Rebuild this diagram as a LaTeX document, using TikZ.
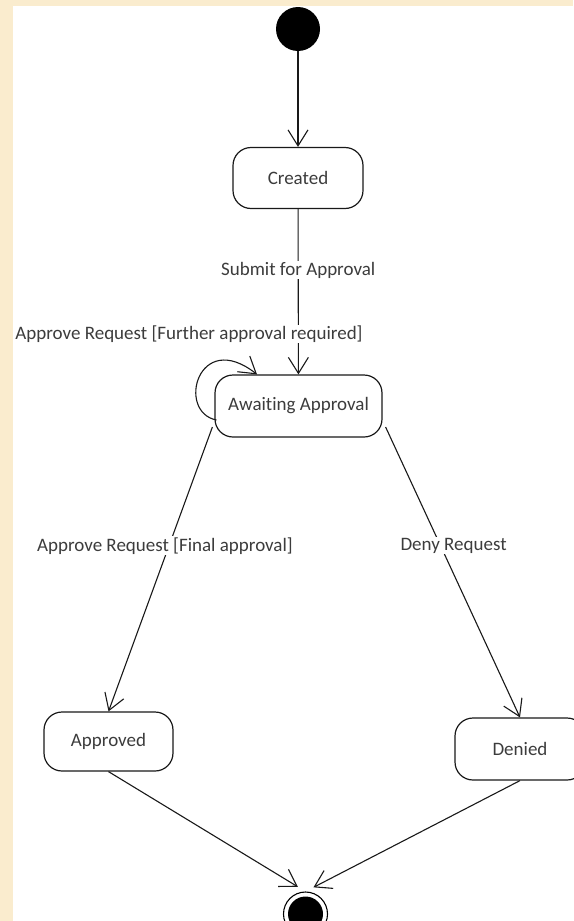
\documentclass[tikz,border=0pt]{standalone}
\usepackage{fontspec}
\setmainfont{Carlito}[Ligatures=NoCommon]
\usetikzlibrary{arrows.meta}
\definecolor{parch}{RGB}{250,236,206}
\definecolor{txt}{RGB}{60,60,60}
\begin{document}
\begin{tikzpicture}[x=1pt,y=-1pt,
  statebox/.style={draw=black!90, line width=1.2pt, rounded corners=18pt, inner sep=0pt,
    font=\fontsize{19}{21}\selectfont, text=txt},
  arr/.style={draw=black!90, line width=1.1pt, -{Straight Barb[length=16pt,width=20pt,line width=1.1pt]}},
  lbl/.style={fill=white, inner sep=1pt, font=\fontsize{19}{21}\selectfont, text=txt}]
\fill[parch] (0,0) rectangle (573,921);
\fill[white] (13,6) rectangle (573,921);
\useasboundingbox (0,0) rectangle (573,921);

\node[circle, fill=black, minimum size=44pt, inner sep=0pt] (start) at (298,29) {};
\node[statebox, minimum width=130pt, minimum height=61pt] (created) at (298,178) {Created};
\node[statebox, minimum width=167pt, minimum height=62pt] (awaiting) at (298.5,406) {Awaiting Approval};
\node[statebox, minimum width=129pt, minimum height=59pt] (approved) at (108.5,741.5) {Approved};
\node[statebox, minimum width=130pt, minimum height=62pt] (denied) at (520,749) {Denied};
\node[circle, draw=black, line width=1.1pt, minimum size=44pt, inner sep=0pt] (fin) at (305.5,914) {};
\node[circle, fill=black, minimum size=35pt, inner sep=0pt] (finin) at (fin.center) {};

\draw[arr] (start) -- (created);
\draw[arr] (created) -- node[lbl, pos=0.37] (l1) {Submit for Approval} (awaiting);
\draw[arr] ([shift={(2,14)}]awaiting.west) .. controls (176,412) and (198,328) .. ([shift={(-41.5,0)}]awaiting.north);
\node[lbl] (l2) at (189,334) {Approve Request [Further approval required]};
\draw[arr] ([shift={(-2,21)}]awaiting.west) -- node[lbl, pos=0.418, xshift=-4pt] (l3) {Approve Request [Final approval]} (approved.north);
\draw[arr] ([shift={(3,21)}]awaiting.east) -- node[lbl, pos=0.409, xshift=13pt] (l4) {Deny Request} (denied.north);
\draw[arr, shorten >=9pt] (approved.south) -- (fin.north);
\draw[arr, shorten >=9pt] (denied.south) -- (fin.north);
\end{tikzpicture}
\end{document}
